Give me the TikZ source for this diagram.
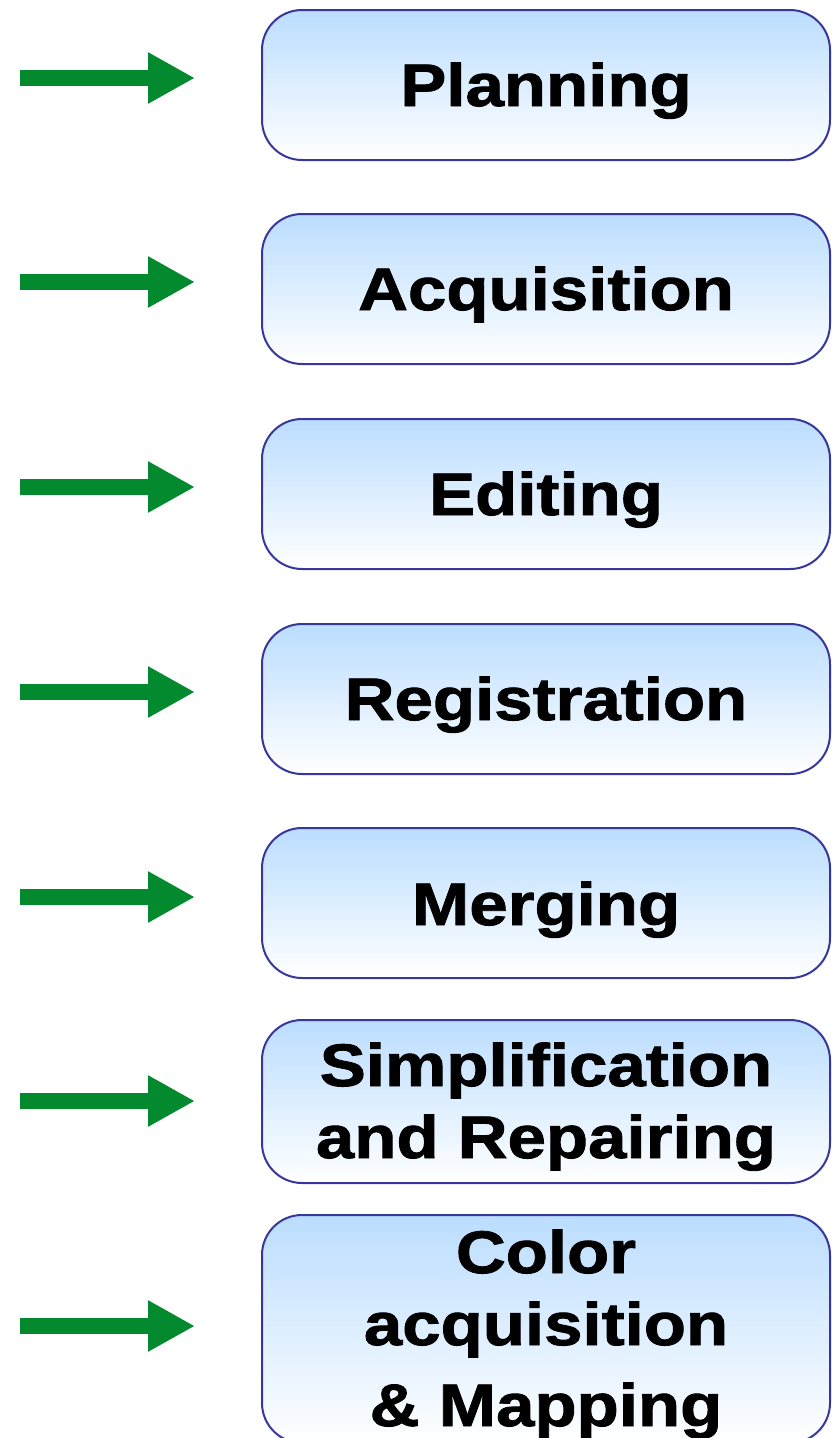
\documentclass[tikz,border=0pt]{standalone}
\usepackage{fontspec}
\usetikzlibrary{arrows.meta}
\newfontfamily\lblfont{Liberation Sans}[FakeStretch=1.15,FakeBold=1.5]
\definecolor{boxtop}{RGB}{187,221,255}
\definecolor{boxedge}{RGB}{55,55,155}
\definecolor{arrgreen}{RGB}{3,138,47}
\begin{document}
\begin{tikzpicture}[x=1pt,y=-1pt,
  stagebox/.style={draw=boxedge, line width=2pt, rounded corners=40pt,
    top color=boxtop, bottom color=white, minimum width=568pt, inner sep=0pt},
  lbl/.style={font=\lblfont\bfseries\fontsize{60}{72}\selectfont, anchor=base, inner sep=0pt},
  fatarrow/.style={draw=arrgreen, line width=16pt,
    -{Triangle[length=47pt,width=48pt,fill=arrgreen]}}]
\useasboundingbox (0,0) rectangle (831,1438);
\clip (0,0) rectangle (831,1438);
% boxes
\node[stagebox, minimum height=150pt] (b1) at (546,85) {};
\node[stagebox, minimum height=150pt] (b2) at (546,289) {};
\node[stagebox, minimum height=150pt] (b3) at (546,494) {};
\node[stagebox, minimum height=150pt] (b4) at (546,699) {};
\node[stagebox, minimum height=150pt] (b5) at (546,903) {};
\node[stagebox, minimum height=163pt] (b6) at (546,1101.5) {};
\node[stagebox, minimum height=228pt] (b7) at (546,1329) {};
% labels
\node[lbl] (t1) at (546,106) {Planning};
\node[lbl] (t2) at (546,310) {Acquisition};
\node[lbl] (t3) at (546,515) {Editing};
\node[lbl] (t4) at (546,720) {Registration};
\node[lbl] (t5) at (546,925) {Merging};
\node[lbl] (t6a) at (546,1086) {Simplification};
\node[lbl] (t6b) at (546,1158) {and Repairing};
\node[lbl] (t7a) at (546,1273) {Color};
\node[lbl] (t7b) at (546,1345) {acquisition};
\node[lbl] (t7c) at (546,1426) {\&\ Mapping};
% arrows
\foreach \i/\y in {1/78,2/282,3/487,4/692,5/897,6/1101,7/1326}{
  \coordinate (s\i) at (20,\y);
  \coordinate (e\i) at (195,\y);
  \draw[fatarrow] (s\i) -- (e\i);
}
\end{tikzpicture}
\end{document}
